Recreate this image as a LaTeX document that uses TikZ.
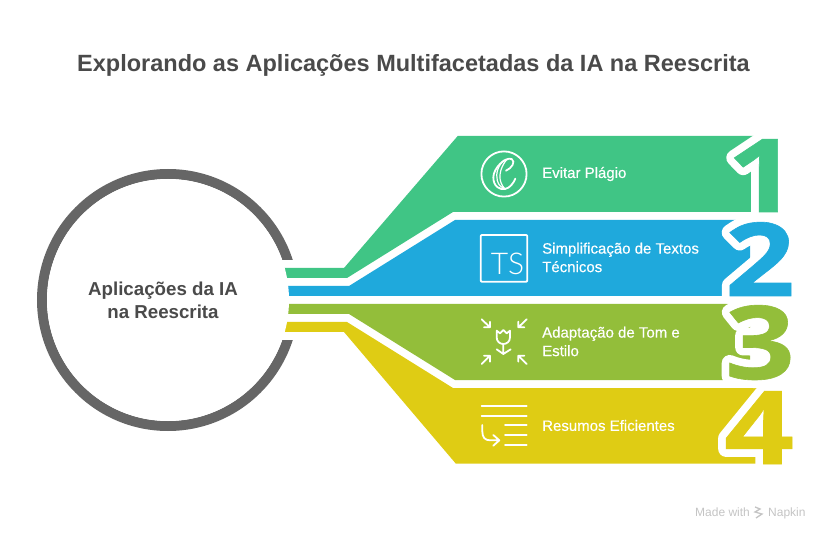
\documentclass[tikz,border=0pt]{standalone}
\usepackage{fontspec}
\setmainfont{Liberation Sans}
\newfontfamily\labelfont[FakeBold=0.35]{Liberation Sans}
\newfontfamily\digitfont[FakeStretch=1.2,FakeBold=0.6]{Open Sans}
\newfontfamily\tsfont{Lato Light}
\definecolor{bandgreen}{HTML}{40C585}
\definecolor{bandblue}{HTML}{1FA9DC}
\definecolor{bandolive}{HTML}{93BE3A}
\definecolor{bandyellow}{HTML}{DFCC14}
\definecolor{ringgrey}{HTML}{666666}
\definecolor{titlegrey}{HTML}{4A4A4A}
\definecolor{markgrey}{HTML}{C4C4C4}
\newcommand{\digitedge}[1]{\special{pdf:code q 1 Tr 1 j 1 J 16 w 1 1 1 RG}#1\special{pdf:code 0 Tr Q}}
\tikzset{
  band/.style={fill=#1, draw=none},
  bandlabel/.style={anchor=west, text=white, align=left, inner sep=0pt, font=\labelfont\fontsize{15}{18.5}\selectfont},
  icon/.style={draw=white, line width=1.8pt, line cap=round, line join=round},
  bigdigit/.style={anchor=base, inner sep=0pt, font=\digitfont\bfseries\fontsize{102}{102}\selectfont},
  edgedigit/.style={anchor=base, inner sep=0pt, text=white, font=\edgefont\bfseries\fontsize{102}{102}\selectfont},
  marktext/.style={anchor=base west, text=markgrey, inner sep=0pt, font=\fontsize{12}{14}\selectfont},
}
\newfontfamily\edgefont[FakeStretch=1.2]{Open Sans}
\begin{document}
\begin{tikzpicture} [x=1pt, y=-1pt]
  \useasboundingbox (0,0) rectangle (828,540);
  % ring and its opening
  \node (ring) [circle, draw=ringgrey, line width=10pt, inner sep=0pt, minimum size=252pt] at (168,300) {};
  \fill [white] (270,260) rectangle (310,340);
  % bands
  \fill [band=bandgreen] (270,268) -- (344,268) -- (457.7,136) -- (756,136) -- (756,212) -- (453,212) -- (347,278) -- (270,278) -- cycle;
  \fill [band=bandblue] (270,286) -- (349,286) -- (455,220) -- (750,220) -- (750,296) -- (270,296) -- cycle;
  \fill [band=bandolive] (270,304) -- (750,304) -- (750,380) -- (455,380) -- (349,314) -- (270,314) -- cycle;
  \fill [band=bandyellow] (270,322) -- (347,322) -- (453,388) -- (765,388) -- (765,463.5) -- (455.7,463.5) -- (344,332) -- (270,332) -- cycle;
  \node (hub) [circle, fill=white, inner sep=0pt, minimum size=242pt] at (ring) {};
  \node (hublabel) [align=center, text=titlegrey, inner sep=0pt, font=\fontsize{18.7}{23}\selectfont\bfseries] at (163,300) {Aplicações da IA\\na Reescrita};
  % numbers with white edge
  \node (edge1) [edgedigit] at (762,212) {\digitedge{1}};
  \node (edge2) [edgedigit] at (760,296) {\digitedge{2}};
  \node (edge3) [edgedigit] at (760,379) {\digitedge{3}};
  \node (edge4) [edgedigit] at (759,464) {\digitedge{4}};
  \node (num1) [bigdigit, text=bandgreen] at (762,212) {1};
  \node (num2) [bigdigit, text=bandblue] at (760,296) {2};
  \node (num3) [bigdigit, text=bandolive] at (760,379) {3};
  \node (num4) [bigdigit, text=bandyellow] at (759,464) {4};
  % title and labels
  \node (title) [text=titlegrey, inner sep=0pt, font=\fontsize{23.5}{28}\selectfont\bfseries] at (413.5,65) {Explorando as Aplicações Multifacetadas da IA na Reescrita};
  \node (label1) [bandlabel] at (542,174) {Evitar Plágio};
  \node (label2) [bandlabel] at (542,257.5) {Simplificação de Textos\\Técnicos};
  \node (label3) [bandlabel] at (542,341.5) {Adaptação de Tom e\\Estilo};
  \node (label4) [bandlabel] at (542,425.5) {Resumos Eficientes};
  % icon 1
  \begin{scope} [shift={(470,140)}, x=0.3333pt, y=-0.3333pt]
    \draw [icon] (102,102) circle [radius=22.6pt];
    \draw [icon] (108,92) .. controls (125,85) and (138,65) .. (125,57) .. controls (105,50) and (70,85) .. (70,112) .. controls (70,140) and (90,150) .. (105,147) .. controls (120,144) and (130,130) .. (136,116);
    \draw [icon, line width=1.2pt] (103,60) .. controls (85,75) and (76,100) .. (82,122) .. controls (85,135) and (95,143) .. (105,147);
    \draw [icon, line width=1.2pt] (112,57) .. controls (95,75) and (84,105) .. (93,128) .. controls (96,136) and (100,142) .. (105,147);
  \end{scope}
  % icon 2
  \draw [icon, rounded corners=1pt] (480.7,235) rectangle (527.3,281.7);
  \node (tsmark) [anchor=base, text=white, inner sep=0pt, font=\tsfont\fontsize{30}{30}\selectfont] at (507.5,275) {TS};
  % icon 3
  \begin{scope} [shift={(470,310)}, x=0.3333pt, y=-0.3333pt]
    \draw [icon] (35,28) -- (60,52) (60,35) -- (60,52) -- (42,52);
    \draw [icon] (170,28) -- (145,52) (145,35) -- (145,52) -- (163,52);
    \draw [icon] (35,162) -- (60,137) (42,137) -- (60,137) -- (60,155);
    \draw [icon] (170,162) -- (145,137) (163,137) -- (145,137) -- (145,155);
    \draw [icon] (80,62) -- (90,70) -- (100,60) -- (110,70) -- (120,62) -- (120,82) .. controls (120,95) and (110,102) .. (100,102) .. controls (90,102) and (80,95) .. (80,82) -- cycle;
    \draw [icon] (100,102) -- (100,132) (80,118) -- (100,132) -- (122,118);
  \end{scope}
  % icon 4
  \begin{scope} [shift={(470,310)}, x=0.3333pt, y=-0.3333pt]
    \draw [icon] (35,288) -- (170,288) (35,317) -- (170,317);
    \draw [icon] (105,345) -- (170,345) (105,375) -- (170,375) (105,404) -- (170,404);
    \draw [icon] (37,345) -- (37,365) .. controls (37,382) and (45,391) .. (60,391) -- (88,391) (70,375) -- (88,391) -- (70,407);
  \end{scope}
  % mark
  \node (made) [marktext] at (695,516) {Made with};
  \node (napkin) [marktext] at (768,516) {Napkin};
  \draw [markgrey, line width=1.3pt] (755,507) -- (760,509) -- (755,512) -- (762,514) -- (756,518);
\end{tikzpicture}
\end{document}
